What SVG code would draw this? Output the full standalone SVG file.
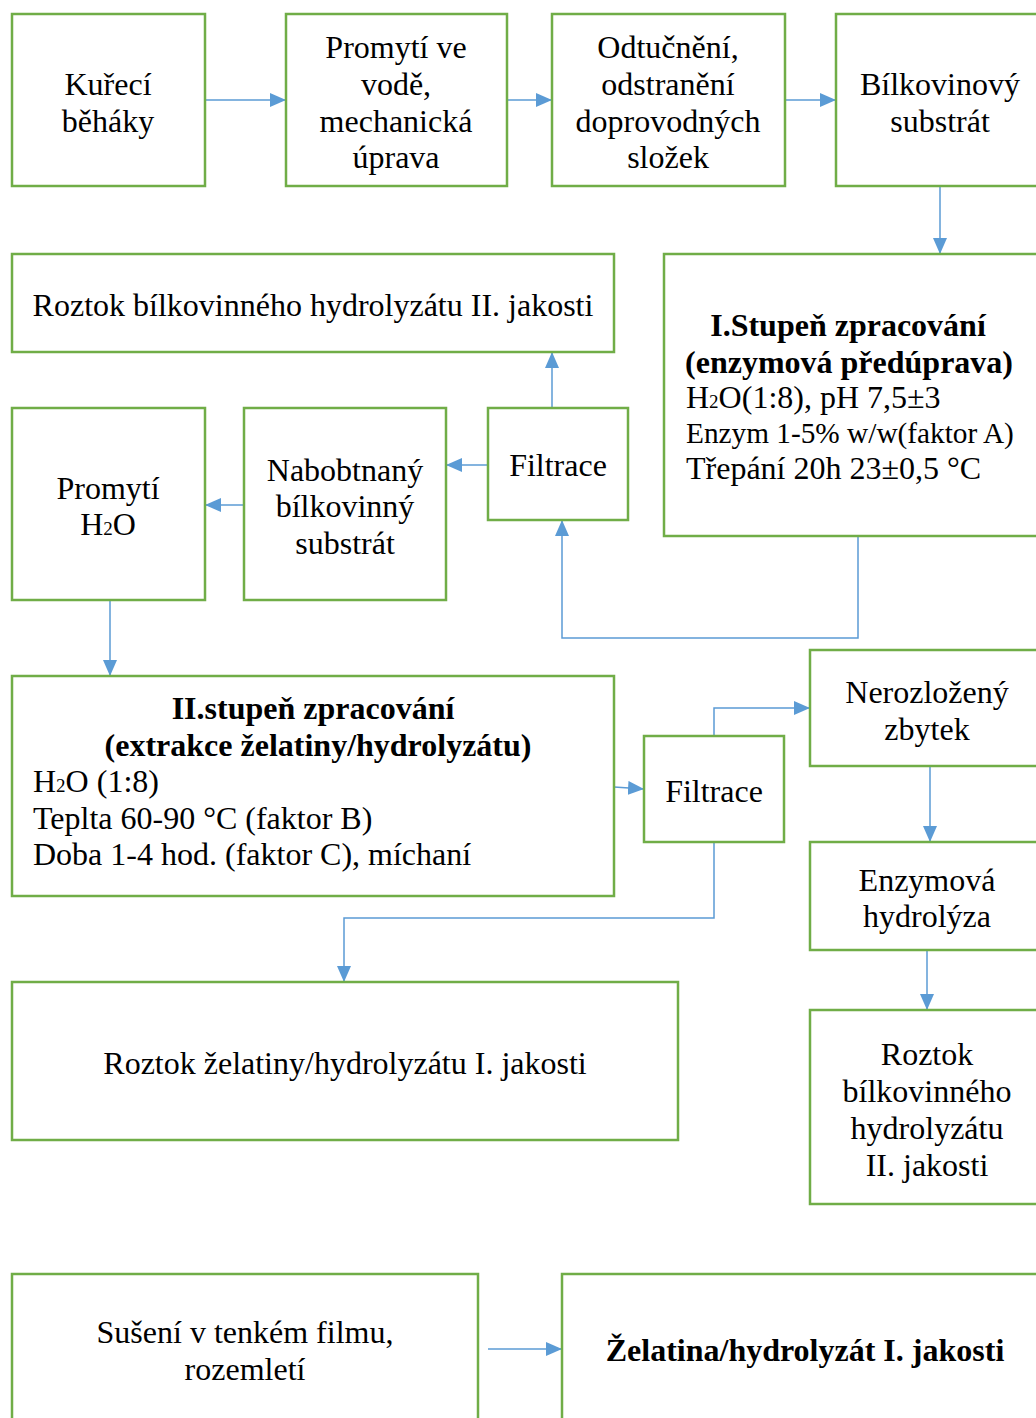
<svg xmlns="http://www.w3.org/2000/svg" width="1036" height="1418" viewBox="0 0 1036 1418">
<defs>
<style>
.box{fill:#fff;stroke:#70AD47;stroke-width:2.5}
text{font-family:"Liberation Serif","Times New Roman",serif;font-size:32px;fill:#000}
.c{text-anchor:middle}
.b{font-weight:bold}
.s{font-size:29.3px}
.con{fill:none;stroke:#5B9BD5;stroke-width:1.5}
.sub{font-size:19px}
</style>
<marker id="ahL" viewBox="0 0 16 14" refX="16" refY="7" markerWidth="16" markerHeight="14" markerUnits="userSpaceOnUse" orient="auto">
<path d="M0,0 L16,7 L0,14 z" fill="#5B9BD5"/>
</marker>
</defs>
<rect width="1036" height="1418" fill="#fff"/>

<g id="connectors">
<line class="con" x1="205" y1="100" x2="286" y2="100" marker-end="url(#ahL)"/>
<line class="con" x1="507" y1="100" x2="552" y2="100" marker-end="url(#ahL)"/>
<line class="con" x1="785" y1="100" x2="836" y2="100" marker-end="url(#ahL)"/>
<line class="con" x1="940" y1="186" x2="940" y2="254" marker-end="url(#ahL)"/>
<line class="con" x1="552" y1="408" x2="552" y2="352" marker-end="url(#ahL)"/>
<line class="con" x1="488" y1="465" x2="446" y2="465" marker-end="url(#ahL)"/>
<line class="con" x1="244" y1="505" x2="205" y2="505" marker-end="url(#ahL)"/>
<polyline class="con" points="858,536 858,638 562,638 562,520" marker-end="url(#ahL)"/>
<line class="con" x1="110" y1="600" x2="110" y2="676" marker-end="url(#ahL)"/>
<line class="con" x1="614" y1="787" x2="644" y2="789" marker-end="url(#ahL)"/>
<polyline class="con" points="714,736 714,708 810,708" marker-end="url(#ahL)"/>
<line class="con" x1="930" y1="766" x2="930" y2="842" marker-end="url(#ahL)"/>
<line class="con" x1="927" y1="950" x2="927" y2="1010" marker-end="url(#ahL)"/>
<polyline class="con" points="714,842 714,918 344,918 344,982" marker-end="url(#ahL)"/>
<line class="con" x1="488" y1="1349" x2="562" y2="1349" marker-end="url(#ahL)"/>
</g>

<g id="n1"><rect class="box" x="12" y="14" width="193" height="172"/>
<text class="c" x="108" y="95">Kuřecí</text><text class="c" x="108" y="132">běháky</text></g>

<g id="n2"><rect class="box" x="286" y="14" width="221" height="172"/>
<text class="c" x="396" y="58">Promytí ve</text><text class="c" x="396" y="95">vodě,</text><text class="c" x="396" y="132">mechanická</text><text class="c" x="396" y="168">úprava</text></g>

<g id="n3"><rect class="box" x="552" y="14" width="233" height="172"/>
<text class="c" x="668" y="58">Odtučnění,</text><text class="c" x="668" y="95">odstranění</text><text class="c" x="668" y="132">doprovodných</text><text class="c" x="668" y="168">složek</text></g>

<g id="n4"><rect class="box" x="836" y="14" width="210" height="172"/>
<text class="c" x="940" y="95">Bílkovinový</text><text class="c" x="940" y="132">substrát</text></g>

<g id="n5"><rect class="box" x="12" y="254" width="602" height="98"/>
<text class="c" x="313" y="316">Roztok bílkovinného hydrolyzátu II. jakosti</text></g>

<g id="n6"><rect class="box" x="664" y="254" width="382" height="282"/>
<text class="c b" x="848" y="336">I.Stupeň zpracování</text>
<text class="c b" x="849" y="373">(enzymová předúprava)</text>
<text x="686" y="408">H<tspan class="sub">2</tspan>O(1:8), pH 7,5±3</text>
<text class="s" x="686" y="443">Enzym 1-5% w/w(faktor A)</text>
<text x="686" y="479">Třepání 20h 23±0,5 °C</text></g>

<g id="n7"><rect class="box" x="12" y="408" width="193" height="192"/>
<text class="c" x="108" y="499">Promytí</text><text class="c" x="108" y="535">H<tspan class="sub">2</tspan>O</text></g>

<g id="n8"><rect class="box" x="244" y="408" width="202" height="192"/>
<text class="c" x="345" y="481">Nabobtnaný</text><text class="c" x="345" y="517">bílkovinný</text><text class="c" x="345" y="554">substrát</text></g>

<g id="n9"><rect class="box" x="488" y="408" width="140" height="112"/>
<text class="c" x="558" y="476">Filtrace</text></g>

<g id="n10"><rect class="box" x="12" y="676" width="602" height="220"/>
<text class="c b" x="313" y="719">II.stupeň zpracování</text>
<text class="c b" x="318" y="756">(extrakce želatiny/hydrolyzátu)</text>
<text x="33" y="792">H<tspan class="sub">2</tspan>O (1:8)</text>
<text x="33" y="829">Teplta 60-90 °C (faktor B)</text>
<text x="33" y="865">Doba 1-4 hod. (faktor C), míchaní</text></g>

<g id="n11"><rect class="box" x="644" y="736" width="140" height="106"/>
<text class="c" x="714" y="802">Filtrace</text></g>

<g id="n12"><rect class="box" x="810" y="650" width="236" height="116"/>
<text class="c" x="927" y="703">Nerozložený</text><text class="c" x="927" y="740">zbytek</text></g>

<g id="n13"><rect class="box" x="810" y="842" width="236" height="108"/>
<text class="c" x="927" y="891">Enzymová</text><text class="c" x="927" y="927">hydrolýza</text></g>

<g id="n14"><rect class="box" x="810" y="1010" width="236" height="194"/>
<text class="c" x="927" y="1065">Roztok</text><text class="c" x="927" y="1102">bílkovinného</text><text class="c" x="927" y="1139">hydrolyzátu</text><text class="c" x="927" y="1176">II. jakosti</text></g>

<g id="n15"><rect class="box" x="12" y="982" width="666" height="158"/>
<text class="c" x="345" y="1074">Roztok želatiny/hydrolyzátu I. jakosti</text></g>

<g id="n16"><rect class="box" x="12" y="1274" width="466" height="160"/>
<text class="c" x="245" y="1343">Sušení v tenkém filmu,</text><text class="c" x="245" y="1380">rozemletí</text></g>

<g id="n17"><rect class="box" x="562" y="1274" width="484" height="160"/>
<text class="c b" x="805" y="1361">Želatina/hydrolyzát I. jakosti</text></g>
</svg>
